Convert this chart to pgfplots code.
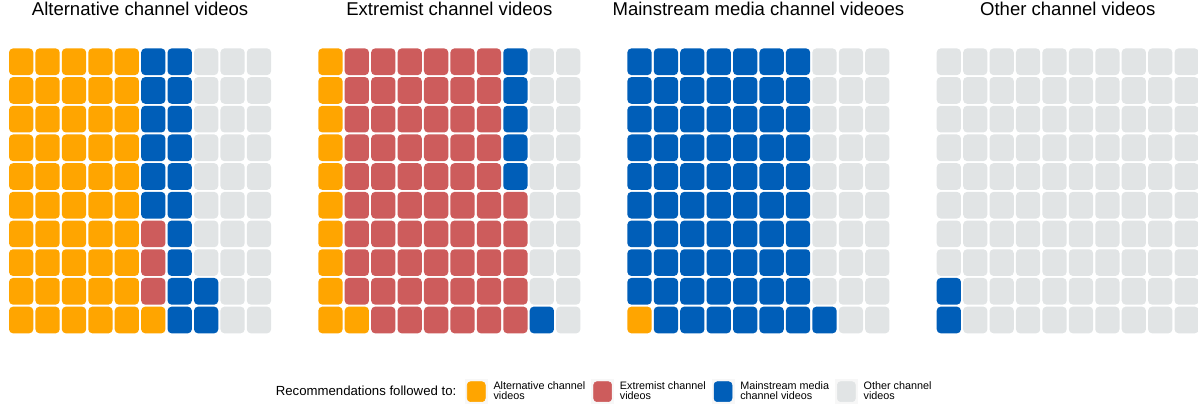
\documentclass[border=0pt]{standalone}
\usepackage{pgfplots}
\pgfplotsset{compat=1.18}
\usepackage{fontspec}
\setmainfont{Liberation Sans}
\definecolor{orangeC}{RGB}{255,165,0}
\definecolor{redC}{RGB}{205,92,92}
\definecolor{blueC}{RGB}{0,94,184}
\definecolor{greyC}{RGB}{225,228,229}
\pgfdeclareplotmark{cell}{%
  \pgfpathmoveto{\pgfpoint{-6.1pt}{-10pt}}%
  \pgfpathlineto{\pgfpoint{6.1pt}{-10pt}}%
  \pgfpatharc{270}{360}{3pt}%
  \pgfpathlineto{\pgfpoint{9.1pt}{7pt}}%
  \pgfpatharc{0}{90}{3pt}%
  \pgfpathlineto{\pgfpoint{-6.1pt}{10pt}}%
  \pgfpatharc{90}{180}{3pt}%
  \pgfpathlineto{\pgfpoint{-9.1pt}{-7pt}}%
  \pgfpatharc{180}{270}{3pt}%
  \pgfpathclose
  \pgfusepathqfill}
\pgfplotsset{
  waffle/.style={
    width=198.2pt, height=215.2pt, scale only axis,
    xmin=0.5, xmax=10.5, ymin=0.5, ymax=10.5,
    hide axis, clip=false, anchor=south west,
    title style={font=\fontsize{13.9pt}{16pt}\selectfont, anchor=base, at={(0.5,1)}, yshift=18.1pt},
  },
  keyimg/.style={legend image code/.code={%
    \fill[black!3] (-1.5pt,-9pt) rectangle (15pt,9pt);
    \fill[#1,rounded corners=2.5pt] (0pt,-7.5pt) rectangle (13.5pt,7.5pt);}},
  cO/.style={only marks, mark=cell, color=orangeC, keyimg=orangeC},
  cR/.style={only marks, mark=cell, color=redC, keyimg=redC},
  cB/.style={only marks, mark=cell, color=blueC, keyimg=blueC},
  cG/.style={only marks, mark=cell, color=greyC, keyimg=greyC},
}
\begin{document}
\begin{tikzpicture}
\clip (0,0) rectangle (898.5pt,303.75pt);
% Panel 1
\begin{axis}[waffle, at={(5.95pt,53.0pt)}, title={Alternative channel videos},
  legend columns=5,
  legend style={draw=none, fill=none, inner sep=0pt, at={(0.990,-0.1998)}, anchor=west,
    /tikz/every odd column/.append style={column sep=4.5pt},
    /tikz/every even column/.append style={column sep=4.5pt},
    nodes={inner sep=0pt, align=left, font=\fontsize{8.1pt}{7.6pt}\selectfont}},
  legend cell align=left]
\addlegendimage{empty legend}
\addplot[cO] coordinates {
(1,1)(1,2)(1,3)(1,4)(1,5)(1,6)(1,7)(1,8)(1,9)(1,10)
(2,1)(2,2)(2,3)(2,4)(2,5)(2,6)(2,7)(2,8)(2,9)(2,10)
(3,1)(3,2)(3,3)(3,4)(3,5)(3,6)(3,7)(3,8)(3,9)(3,10)
(4,1)(4,2)(4,3)(4,4)(4,5)(4,6)(4,7)(4,8)(4,9)(4,10)
(5,1)(5,2)(5,3)(5,4)(5,5)(5,6)(5,7)(5,8)(5,9)(5,10)
(6,1)};
\addplot[cR] coordinates {(6,2)(6,3)(6,4)};
\addplot[cB] coordinates {
(6,5)(6,6)(6,7)(6,8)(6,9)(6,10)
(7,1)(7,2)(7,3)(7,4)(7,5)(7,6)(7,7)(7,8)(7,9)(7,10)
(8,1)(8,2)};
\addplot[cG] coordinates {
(8,3)(8,4)(8,5)(8,6)(8,7)(8,8)(8,9)(8,10)
(9,1)(9,2)(9,3)(9,4)(9,5)(9,6)(9,7)(9,8)(9,9)(9,10)
(10,1)(10,2)(10,3)(10,4)(10,5)(10,6)(10,7)(10,8)(10,9)(10,10)};
\legend{{\fontsize{9.9pt}{11pt}\selectfont Recommendations followed to:\hspace{2pt}},
  {Alternative channel\\videos},{Extremist channel\\videos},
  {Mainstream media\\channel videos},{Other channel\\videos}}
\end{axis}
% Panel 2
\begin{axis}[waffle, at={(237.9pt,53.0pt)}, title={Extremist channel videos}]
\addplot[cO] coordinates {
(1,1)(1,2)(1,3)(1,4)(1,5)(1,6)(1,7)(1,8)(1,9)(1,10)
(2,1)};
\addplot[cR] coordinates {
(2,2)(2,3)(2,4)(2,5)(2,6)(2,7)(2,8)(2,9)(2,10)
(3,1)(3,2)(3,3)(3,4)(3,5)(3,6)(3,7)(3,8)(3,9)(3,10)
(4,1)(4,2)(4,3)(4,4)(4,5)(4,6)(4,7)(4,8)(4,9)(4,10)
(5,1)(5,2)(5,3)(5,4)(5,5)(5,6)(5,7)(5,8)(5,9)(5,10)
(6,1)(6,2)(6,3)(6,4)(6,5)(6,6)(6,7)(6,8)(6,9)(6,10)
(7,1)(7,2)(7,3)(7,4)(7,5)(7,6)(7,7)(7,8)(7,9)(7,10)
(8,1)(8,2)(8,3)(8,4)(8,5)};
\addplot[cB] coordinates {(8,6)(8,7)(8,8)(8,9)(8,10)(9,1)};
\addplot[cG] coordinates {
(9,2)(9,3)(9,4)(9,5)(9,6)(9,7)(9,8)(9,9)(9,10)
(10,1)(10,2)(10,3)(10,4)(10,5)(10,6)(10,7)(10,8)(10,9)(10,10)};
\end{axis}
% Panel 3
\begin{axis}[waffle, at={(469.7pt,53.0pt)}, title={Mainstream media channel videoes}]
\addplot[cO] coordinates {(1,1)};
\addplot[cB] coordinates {
(1,2)(1,3)(1,4)(1,5)(1,6)(1,7)(1,8)(1,9)(1,10)
(2,1)(2,2)(2,3)(2,4)(2,5)(2,6)(2,7)(2,8)(2,9)(2,10)
(3,1)(3,2)(3,3)(3,4)(3,5)(3,6)(3,7)(3,8)(3,9)(3,10)
(4,1)(4,2)(4,3)(4,4)(4,5)(4,6)(4,7)(4,8)(4,9)(4,10)
(5,1)(5,2)(5,3)(5,4)(5,5)(5,6)(5,7)(5,8)(5,9)(5,10)
(6,1)(6,2)(6,3)(6,4)(6,5)(6,6)(6,7)(6,8)(6,9)(6,10)
(7,1)(7,2)(7,3)(7,4)(7,5)(7,6)(7,7)(7,8)(7,9)(7,10)
(8,1)};
\addplot[cG] coordinates {
(8,2)(8,3)(8,4)(8,5)(8,6)(8,7)(8,8)(8,9)(8,10)
(9,1)(9,2)(9,3)(9,4)(9,5)(9,6)(9,7)(9,8)(9,9)(9,10)
(10,1)(10,2)(10,3)(10,4)(10,5)(10,6)(10,7)(10,8)(10,9)(10,10)};
\end{axis}
% Panel 4
\begin{axis}[waffle, at={(701.7pt,53.0pt)}, title={Other channel videos}]
\addplot[cB] coordinates {(1,1)(1,2)};
\addplot[cG] coordinates {
(1,3)(1,4)(1,5)(1,6)(1,7)(1,8)(1,9)(1,10)
(2,1)(2,2)(2,3)(2,4)(2,5)(2,6)(2,7)(2,8)(2,9)(2,10)
(3,1)(3,2)(3,3)(3,4)(3,5)(3,6)(3,7)(3,8)(3,9)(3,10)
(4,1)(4,2)(4,3)(4,4)(4,5)(4,6)(4,7)(4,8)(4,9)(4,10)
(5,1)(5,2)(5,3)(5,4)(5,5)(5,6)(5,7)(5,8)(5,9)(5,10)
(6,1)(6,2)(6,3)(6,4)(6,5)(6,6)(6,7)(6,8)(6,9)(6,10)
(7,1)(7,2)(7,3)(7,4)(7,5)(7,6)(7,7)(7,8)(7,9)(7,10)
(8,1)(8,2)(8,3)(8,4)(8,5)(8,6)(8,7)(8,8)(8,9)(8,10)
(9,1)(9,2)(9,3)(9,4)(9,5)(9,6)(9,7)(9,8)(9,9)(9,10)
(10,1)(10,2)(10,3)(10,4)(10,5)(10,6)(10,7)(10,8)(10,9)(10,10)};
\end{axis}
\end{tikzpicture}
\end{document}
